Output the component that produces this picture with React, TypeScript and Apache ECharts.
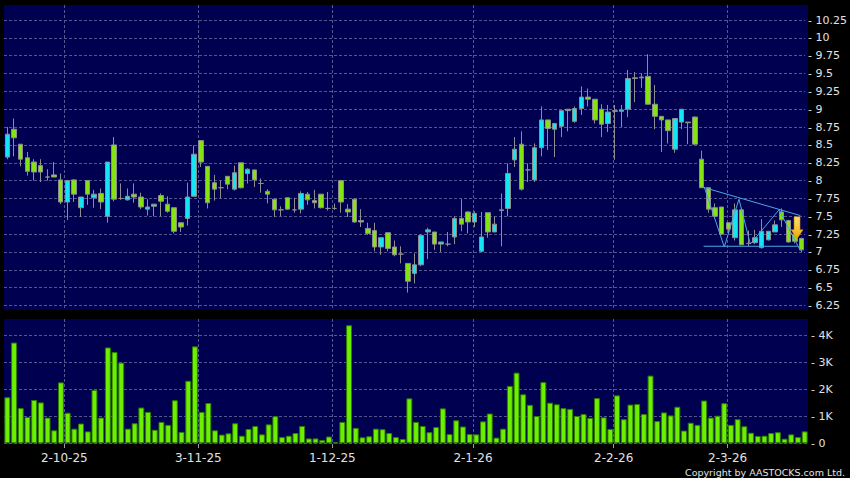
import React, { useEffect, useRef } from 'react';
import * as echarts from 'echarts';

// ---- trading calendar ----
const START_DATE = '2025-09-18';
const END_DATE = '2026-03-17';
const HOLIDAYS = ['2025-10-01', '2025-10-07', '2025-10-29', '2025-12-25', '2025-12-26', '2026-01-01', '2026-02-17', '2026-02-18', '2026-02-19'];

// ---- prices ----
const OPEN = [
  8.33, 8.72, 8.51, 8.32, 8.26, 8.21, 8.05, 8.08, 8.01, 7.70,
  8.01, 7.62, 8.00, 7.76, 7.82, 7.50, 8.50, 7.75, 7.73, 7.81,
  7.77, 7.60, 7.64, 7.79, 7.67, 7.62, 7.41, 7.47, 7.78, 8.56,
  8.20, 7.97, 7.90, 8.06, 7.88, 8.25, 8.10, 8.15, 7.96, 7.85,
  7.74, 7.59, 7.76, 7.59, 7.60, 7.81, 7.72, 7.81, 7.61, 7.61,
  8.00, 7.60, 7.74, 7.42, 7.33, 7.30, 7.07, 7.27, 7.07, 6.97,
  6.84, 6.70, 6.82, 7.28, 7.28, 7.11, 7.11, 7.21, 7.47, 7.56,
  7.42, 7.01, 7.55, 7.28, 7.58, 7.61, 8.29, 8.51, 8.15, 8.01,
  8.46, 8.85, 8.72, 8.76, 8.98, 8.83, 9.01, 9.17, 9.14, 9.00,
  8.80, 8.97, 8.97, 9.00, 9.43, 9.44, 9.46, 9.07, 8.90, 8.85,
  8.44, 8.82, 8.82, 8.89, 8.30, 7.90, 7.62, 7.63, 7.41, 7.20,
  7.59, 7.12, 7.13, 7.06, 7.17, 7.28, 7.56, 7.44, 7.25, 7.19,
];
const CLOSE = [
  8.65, 8.60, 8.30, 8.13, 8.12, 8.12, 8.05, 8.05, 7.70, 8.00,
  7.81, 7.77, 7.81, 7.81, 7.70, 8.26, 7.74, 7.75, 7.78, 7.77,
  7.63, 7.63, 7.67, 7.71, 7.57, 7.29, 7.35, 7.77, 8.37, 8.26,
  7.69, 7.88, 7.90, 7.95, 8.11, 7.90, 8.16, 8.01, 7.96, 7.81,
  7.59, 7.59, 7.60, 7.59, 7.82, 7.73, 7.69, 7.62, 7.61, 7.61,
  7.70, 7.56, 7.42, 7.44, 7.26, 7.07, 7.20, 7.05, 6.96, 6.97,
  6.59, 6.82, 7.23, 7.31, 7.11, 7.14, 7.11, 7.47, 7.39, 7.42,
  7.54, 7.21, 7.28, 7.39, 7.59, 8.10, 8.44, 7.88, 8.15, 8.46,
  8.85, 8.73, 8.80, 8.98, 9.00, 9.01, 9.17, 9.14, 8.85, 8.79,
  8.96, 8.98, 8.99, 9.43, 9.44, 9.45, 9.07, 8.90, 8.85, 8.70,
  8.87, 9.00, 8.81, 8.51, 7.90, 7.60, 7.50, 7.25, 7.32, 7.59,
  7.10, 7.12, 7.20, 7.29, 7.29, 7.38, 7.45, 7.14, 7.15, 7.03,
];
const LOW = [
  8.30, 8.34, 8.20, 8.07, 8.00, 7.98, 8.00, 8.05, 7.67, 7.45,
  7.70, 7.49, 7.66, 7.62, 7.60, 7.41, 7.71, 7.73, 7.72, 7.69,
  7.60, 7.51, 7.50, 7.50, 7.55, 7.26, 7.28, 7.37, 7.78, 8.19,
  7.61, 7.72, 7.75, 7.88, 7.86, 7.89, 7.96, 7.91, 7.83, 7.68,
  7.49, 7.50, 7.59, 7.55, 7.54, 7.66, 7.61, 7.61, 7.58, 7.59,
  7.55, 7.49, 7.41, 7.35, 7.24, 7.01, 6.96, 7.01, 6.94, 6.84,
  6.43, 6.56, 6.80, 6.90, 7.03, 7.00, 7.08, 7.11, 7.29, 7.26,
  7.35, 7.00, 7.20, 7.28, 7.08, 7.50, 8.19, 7.86, 7.98, 7.98,
  8.34, 8.43, 8.33, 8.61, 8.69, 8.81, 8.92, 9.04, 8.80, 8.61,
  8.68, 8.29, 8.75, 8.89, 9.10, 9.30, 9.07, 8.72, 8.40, 8.52,
  8.39, 8.72, 8.51, 8.51, 7.90, 7.55, 7.47, 7.24, 7.26, 7.16,
  7.10, 7.08, 7.11, 7.05, 7.16, 7.28, 7.35, 7.13, 7.12, 7.00,
];
const HIGH = [
  8.75, 8.87, 8.51, 8.40, 8.30, 8.30, 8.16, 8.26, 8.10, 8.01,
  8.02, 7.77, 8.00, 7.87, 7.89, 8.26, 8.61, 7.96, 7.89, 7.96,
  7.83, 7.74, 7.67, 7.82, 7.78, 7.62, 7.41, 7.97, 8.49, 8.56,
  8.20, 8.08, 8.00, 8.06, 8.21, 8.25, 8.17, 8.15, 8.03, 7.88,
  7.74, 7.64, 7.76, 7.76, 7.85, 7.84, 7.87, 7.81, 7.84, 7.68,
  8.00, 7.67, 7.75, 7.60, 7.41, 7.41, 7.20, 7.27, 7.16, 7.08,
  6.84, 6.98, 7.25, 7.34, 7.28, 7.14, 7.28, 7.50, 7.74, 7.57,
  7.57, 7.56, 7.55, 7.50, 7.82, 8.24, 8.61, 8.69, 8.24, 8.52,
  9.04, 8.85, 8.80, 8.98, 9.00, 9.04, 9.32, 9.29, 9.14, 9.07,
  9.06, 9.06, 9.06, 9.55, 9.52, 9.50, 9.77, 9.34, 8.90, 8.85,
  8.87, 9.00, 8.82, 8.90, 8.42, 7.90, 7.68, 7.63, 7.41, 7.68,
  7.62, 7.30, 7.31, 7.46, 7.29, 7.44, 7.61, 7.45, 7.28, 7.20,
];
// ---- volume (thousands) ----
const VOLUME_K = [
  1.70, 3.72, 1.30, 0.97, 1.60, 1.51, 0.95, 0.48, 2.25, 1.13,
  0.54, 0.73, 0.44, 1.97, 0.95, 3.54, 3.37, 2.98, 0.54, 0.74,
  1.32, 1.16, 0.50, 0.79, 0.68, 1.59, 0.42, 2.31, 3.58, 1.16,
  1.49, 0.48, 0.32, 0.37, 0.74, 0.28, 0.53, 0.64, 0.33, 0.70,
  1.00, 0.23, 0.28, 0.38, 0.64, 0.18, 0.18, 0.12, 0.25, 0.04,
  0.79, 4.36, 0.57, 0.22, 0.26, 0.54, 0.52, 0.38, 0.23, 0.16,
  1.66, 0.79, 0.64, 0.41, 0.60, 1.29, 0.34, 0.85, 0.62, 0.34,
  0.33, 0.81, 1.10, 0.21, 0.54, 2.12, 2.61, 1.81, 1.42, 1.01,
  2.26, 1.50, 1.44, 1.30, 1.27, 1.01, 1.08, 0.94, 1.67, 0.96,
  0.53, 1.77, 0.89, 1.43, 1.45, 1.08, 2.50, 0.82, 1.14, 1.03,
  1.35, 0.47, 0.76, 0.68, 1.58, 0.95, 1.02, 1.48, 0.68, 0.89,
  0.63, 0.39, 0.27, 0.28, 0.38, 0.41, 0.17, 0.33, 0.23, 0.44,
];

// ---- pattern annotation (x = candle index, y = price) ----
const TREND_UPPER = [[104.1, 7.91], [118.8, 7.51]];
const TREND_LOWER = [[104.3, 7.08], [118.4, 7.08]];
const ZIGZAG = [[104.4, 7.91], [107.4, 7.07], [109.6, 7.74], [111.3, 7.11], [115.6, 7.59], [118.8, 7.02]];
const ARROW_AT = [118.3, 7.34];

const PRICE_TICKS = { min: 6.25, max: 10.25, step: 0.25 };
const VOL_TICKS = { min: 0, max: 4000, step: 1000 };

function buildDates(): string[] {
  const out: string[] = [];
  const d = new Date(START_DATE + 'T00:00:00Z');
  const end = new Date(END_DATE + 'T00:00:00Z');
  while (d.getTime() <= end.getTime()) {
    const wd = d.getUTCDay();
    const iso = d.toISOString().slice(0, 10);
    if (wd !== 0 && wd !== 6 && HOLIDAYS.indexOf(iso) < 0) out.push(iso);
    d.setUTCDate(d.getUTCDate() + 1);
  }
  return out;
}

export default function App() {
  const ref = useRef<HTMLDivElement>(null);
  useEffect(() => {
    if (!ref.current) return;
    const chart = echarts.init(ref.current, undefined, { renderer: 'svg' });
    const dates = buildDates();
    const N = dates.length;
    // month boundaries (left edge of first trading day of each month)
    const labelMap: Record<number, string> = {};
    for (let i = 1; i < N; i++) {
      if (dates[i].slice(0, 7) !== dates[i - 1].slice(0, 7)) {
        const [y, m, dd] = dates[i].split('-');
        labelMap[2 * i] = `${+dd}-${+m}-${y.slice(2)}`;
      }
    }
    const helper = Array.from({ length: 2 * N + 1 }, (_, k) => 'k' + k);
    const isBoundary = (k: number) => labelMap[k] !== undefined;

    const ohlc = OPEN.map((o, i) => [o, CLOSE[i], LOW[i], HIGH[i]]);
    const vol = VOLUME_K.map((v) => Math.round(v * 1000));

    const PANEL = '#000050';
    const GRID = '#55558f';
    const TXT = '#e2e2e2';
    const FONT = 'DejaVu Sans';
    const dashed = { color: GRID, width: 1, type: [3, 2] as any };
    const L = 4;
    const R = 42;
    const lineStyle = { color: '#4ea6e2', width: 1 };

    chart.setOption({
      animation: false,
      backgroundColor: '#000000',
      grid: [
        { left: L, right: R, top: 20, height: 285.5 },
        { left: L, right: R, top: 335, height: 108.3 },
        { left: L, right: R, top: 5, height: 305, show: true, backgroundColor: PANEL, borderWidth: 0 },
        { left: L, right: R, top: 319, height: 125, show: true, backgroundColor: PANEL, borderWidth: 0 },
      ],
      xAxis: [
        { type: 'category', gridIndex: 0, data: dates, show: false },
        { type: 'value', gridIndex: 0, min: -0.5, max: N - 0.5, show: false },
        { type: 'category', gridIndex: 1, data: dates, show: false },
        {
          type: 'category', gridIndex: 2, data: helper, boundaryGap: false,
          axisLine: { show: false }, axisTick: { show: false }, axisLabel: { show: false },
          splitLine: { show: true, interval: (k: number) => isBoundary(k), lineStyle: dashed },
        },
        {
          type: 'category', gridIndex: 3, data: helper, boundaryGap: false, position: 'bottom',
          axisLine: { show: false },
          axisTick: { show: true, interval: (k: number) => isBoundary(k), length: 4, lineStyle: { color: '#9a9a9a' } },
          axisLabel: {
            show: true, interval: (k: number) => isBoundary(k),
            formatter: (_v: string, k: number) => labelMap[k] || '',
            color: TXT, fontSize: 12, fontFamily: FONT, margin: 8,
          },
          splitLine: { show: true, interval: (k: number) => isBoundary(k), lineStyle: dashed },
        },
      ],
      yAxis: [
        {
          type: 'value', gridIndex: 0, position: 'right',
          min: PRICE_TICKS.min, max: PRICE_TICKS.max, interval: PRICE_TICKS.step,
          axisLine: { show: false }, axisTick: { show: false },
          axisLabel: { formatter: (v: number) => '- ' + v, margin: 3, color: TXT, fontSize: 11, fontFamily: FONT, showMinLabel: true, showMaxLabel: true },
          splitLine: { show: true, lineStyle: dashed },
        },
        {
          type: 'value', gridIndex: 1, position: 'right',
          min: VOL_TICKS.min, max: VOL_TICKS.max, interval: VOL_TICKS.step,
          axisLine: { show: false }, axisTick: { show: false },
          axisLabel: { formatter: (v: number) => '- ' + (v === 0 ? '0' : v / 1000 + 'K'), margin: 3, color: TXT, fontSize: 11, fontFamily: FONT, showMinLabel: true, showMaxLabel: true },
          splitLine: { show: true, lineStyle: dashed },
        },
        { type: 'value', gridIndex: 2, min: 0, max: 1, show: false },
        { type: 'value', gridIndex: 3, min: 0, max: 1, show: false },
      ],
      series: [
        {
          type: 'candlestick', xAxisIndex: 0, yAxisIndex: 0, data: ohlc, barWidth: 5,
          itemStyle: { color: '#14e4f4', color0: '#84e410', borderColor: '#8e8e8e', borderColor0: '#8e8e8e', borderColorDoji: '#8e8e8e', borderWidth: 1 },
        },
        {
          type: 'bar', xAxisIndex: 2, yAxisIndex: 1, data: vol, barCategoryGap: '12%', clip: false,
          itemStyle: { color: '#6cf000', borderColor: '#2f7d00', borderWidth: 1 },
        },
        { type: 'line', xAxisIndex: 1, yAxisIndex: 0, data: TREND_UPPER, symbol: 'none', lineStyle, z: 4 },
        { type: 'line', xAxisIndex: 1, yAxisIndex: 0, data: TREND_LOWER, symbol: 'none', lineStyle, z: 4 },
        {
          type: 'line', xAxisIndex: 1, yAxisIndex: 0, data: ZIGZAG, symbol: 'none', lineStyle, z: 4,
          markPoint: {
            silent: true,
            symbol: 'path://M3,0 L9,0 L9,13 L12,13 L6,22 L0,13 L3,13 Z',
            symbolSize: [12, 22],
            label: { show: false },
            itemStyle: {
              color: new echarts.graphic.LinearGradient(0, 0, 0, 1, [
                { offset: 0, color: '#ffe070' },
                { offset: 1, color: '#f2a800' },
              ]),
              borderColor: '#d08a00', borderWidth: 0.5,
            },
            data: [{ coord: ARROW_AT }],
          },
        },
      ],
      graphic: [
        {
          type: 'text', right: 5, bottom: 1,
          style: { text: 'Copyright by AASTOCKS.com Ltd.', fill: TXT, font: '9.5px "DejaVu Sans"' },
        },
      ],
    });
    return () => chart.dispose();
  }, []);
  return (
    <div
      ref={ref}
      style={{ position: 'absolute', left: 0, top: 0, width: 850, height: 478, background: '#000' }}
    />
  );
}
